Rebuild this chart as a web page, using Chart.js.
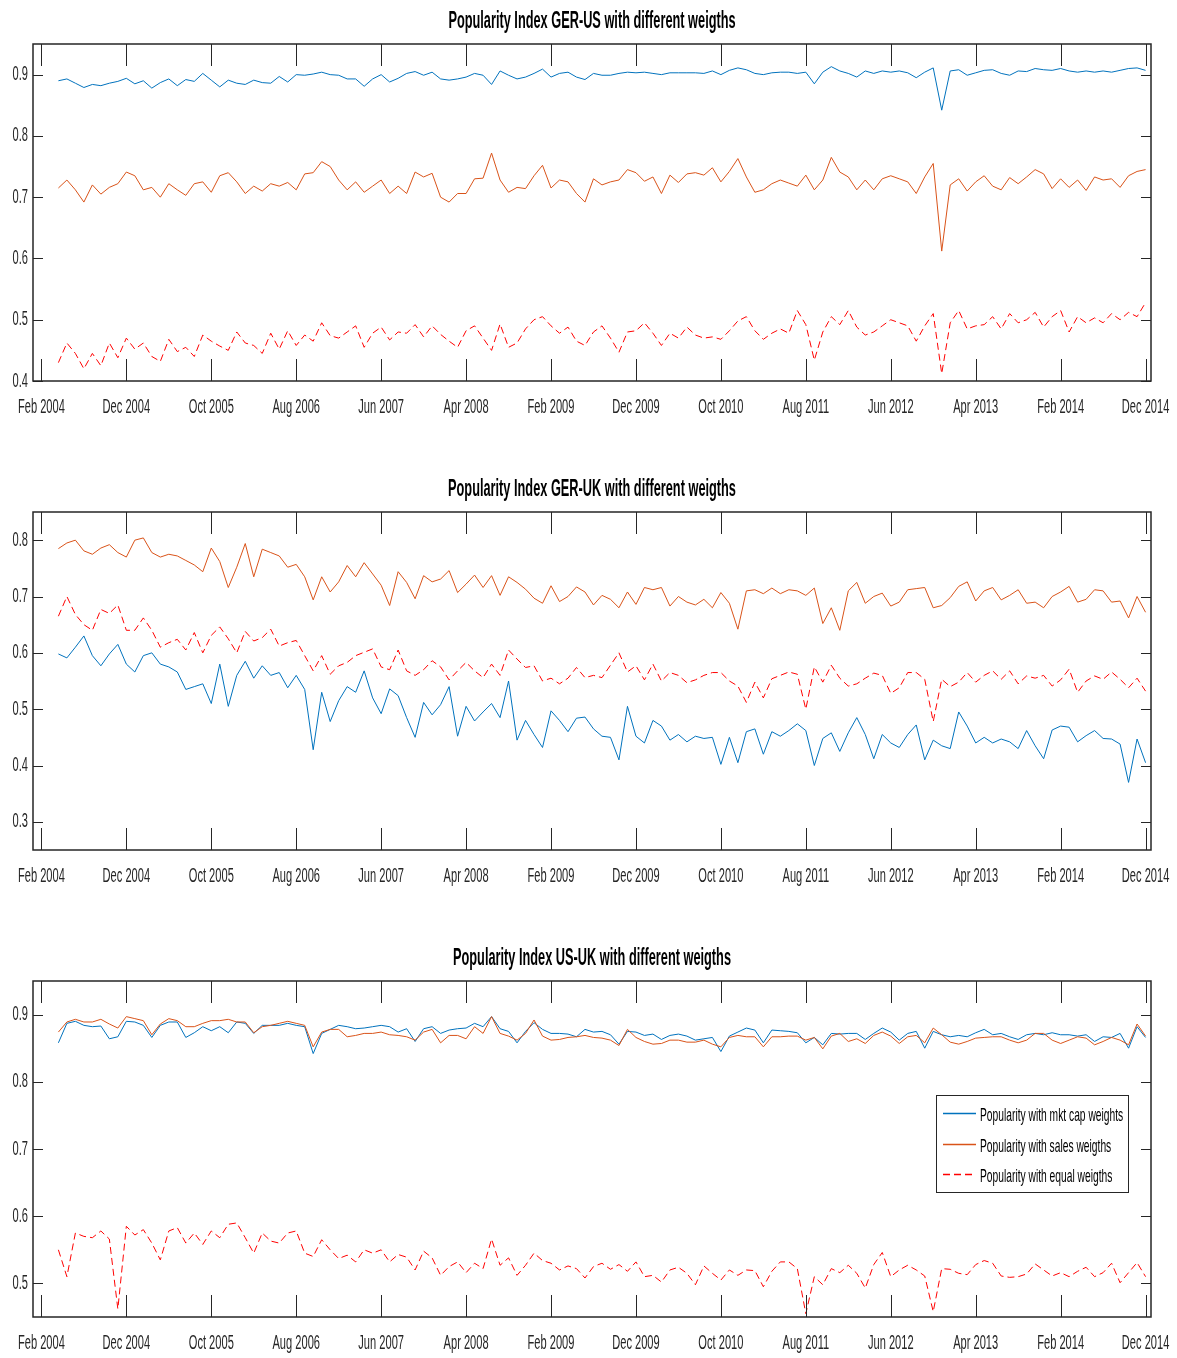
<!DOCTYPE html>
<html>
<head>
<meta charset="utf-8">
<script src="https://cdn.jsdelivr.net/npm/chart.js@4.4.1/dist/chart.umd.min.js"></script>
<style>
body { margin: 0; background: #fff; }
canvas { display: block; }
</style>
</head>
<body>
<canvas id="gerUs" width="1177" height="421"></canvas>
<canvas id="gerUk" width="1177" height="469"></canvas>
<canvas id="usUk" width="1177" height="467"></canvas>
<script>
// months counted from Feb 2004 (0 = Feb 2004), one value per month from Apr 2004
const months = Array.from({ length: 129 }, (_, i) => i + 2);

const xTickPos = [0, 10, 20, 30, 40, 50, 60, 70, 80, 90, 100, 110, 120, 130];
const xTickLabels = ['Feb 2004', 'Dec 2004', 'Oct 2005', 'Aug 2006', 'Jun 2007', 'Apr 2008', 'Feb 2009',
    'Dec 2009', 'Oct 2010', 'Aug 2011', 'Jun 2012', 'Apr 2013', 'Feb 2014', 'Dec 2014'];

const seriesNames = ['Popularity with mkt cap weights', 'Popularity with sales weigths', 'Popularity with equal weigths'];

// GER-US
const gerUsMkt = [
    0.890, 0.893, 0.886, 0.879, 0.884, 0.882, 0.886, 0.889, 0.894, 0.885,
    0.890, 0.878, 0.887, 0.893, 0.882, 0.892, 0.889, 0.902, 0.891, 0.880,
    0.891, 0.886, 0.884, 0.891, 0.887, 0.886, 0.897, 0.888, 0.900, 0.899,
    0.901, 0.904, 0.900, 0.899, 0.893, 0.893, 0.881, 0.893, 0.900, 0.888,
    0.894, 0.902, 0.905, 0.899, 0.904, 0.893, 0.891, 0.893, 0.896, 0.902,
    0.899, 0.884, 0.906, 0.899, 0.893, 0.896, 0.902, 0.909, 0.896, 0.902,
    0.904, 0.896, 0.892, 0.902, 0.899, 0.899, 0.902, 0.904, 0.903, 0.904,
    0.902, 0.900, 0.903, 0.903, 0.903, 0.903, 0.902, 0.906, 0.900, 0.907,
    0.911, 0.908, 0.902, 0.900, 0.903, 0.904, 0.904, 0.902, 0.904, 0.885,
    0.904, 0.913, 0.906, 0.902, 0.896, 0.906, 0.902, 0.906, 0.904, 0.906,
    0.903, 0.895, 0.904, 0.911, 0.842, 0.906, 0.908, 0.899, 0.903, 0.907,
    0.908, 0.902, 0.899, 0.906, 0.905, 0.910, 0.908, 0.907, 0.910, 0.906,
    0.904, 0.906, 0.904, 0.906, 0.904, 0.907, 0.910, 0.911, 0.907
];
const gerUsSales = [
    0.715, 0.728, 0.712, 0.692, 0.720, 0.705, 0.716, 0.722, 0.741, 0.735,
    0.712, 0.716, 0.700, 0.722, 0.712, 0.703, 0.722, 0.725, 0.708, 0.735,
    0.740, 0.725, 0.706, 0.718, 0.710, 0.722, 0.718, 0.724, 0.712, 0.738,
    0.740, 0.758, 0.750, 0.728, 0.712, 0.725, 0.708, 0.718, 0.728, 0.706,
    0.718, 0.706, 0.741, 0.733, 0.739, 0.700, 0.692, 0.706, 0.706, 0.730,
    0.731, 0.772, 0.728, 0.708, 0.716, 0.714, 0.735, 0.752, 0.715, 0.728,
    0.725, 0.706, 0.692, 0.730, 0.720, 0.725, 0.728, 0.745, 0.740, 0.726,
    0.733, 0.706, 0.736, 0.724, 0.738, 0.740, 0.736, 0.748, 0.725, 0.742,
    0.763, 0.733, 0.708, 0.712, 0.722, 0.728, 0.723, 0.718, 0.736, 0.712,
    0.728, 0.765, 0.741, 0.733, 0.712, 0.728, 0.712, 0.730, 0.735, 0.730,
    0.725, 0.706, 0.733, 0.755, 0.612, 0.720, 0.730, 0.710, 0.725, 0.735,
    0.718, 0.712, 0.732, 0.722, 0.733, 0.745, 0.738, 0.714, 0.730, 0.716,
    0.728, 0.711, 0.733, 0.728, 0.730, 0.716, 0.735, 0.742, 0.745
];
const gerUsEqual = [
    0.430, 0.462, 0.445, 0.420, 0.445, 0.425, 0.462, 0.438, 0.470, 0.452,
    0.462, 0.440, 0.432, 0.468, 0.448, 0.455, 0.440, 0.475, 0.465, 0.457,
    0.450, 0.480, 0.462, 0.458, 0.445, 0.478, 0.452, 0.482, 0.458, 0.475,
    0.465, 0.495, 0.474, 0.470, 0.480, 0.490, 0.455, 0.478, 0.488, 0.467,
    0.480, 0.478, 0.492, 0.472, 0.490, 0.476, 0.465, 0.455, 0.482, 0.490,
    0.470, 0.450, 0.493, 0.455, 0.462, 0.485, 0.500, 0.505, 0.490, 0.478,
    0.488, 0.465, 0.458, 0.480, 0.490, 0.470, 0.447, 0.480, 0.482, 0.495,
    0.478, 0.458, 0.478, 0.470, 0.488, 0.475, 0.470, 0.472, 0.468, 0.482,
    0.498, 0.505, 0.482, 0.468, 0.478, 0.485, 0.478, 0.515, 0.492, 0.434,
    0.480, 0.505, 0.492, 0.515, 0.488, 0.475, 0.480, 0.490, 0.500, 0.495,
    0.490, 0.465, 0.490, 0.510, 0.412, 0.495, 0.515, 0.485, 0.490, 0.492,
    0.505, 0.485, 0.510, 0.495, 0.500, 0.512, 0.488, 0.505, 0.515, 0.480,
    0.505, 0.495, 0.503, 0.495, 0.510, 0.500, 0.512, 0.505, 0.528
];

// GER-UK
const gerUkMkt = [
    0.598, 0.591, 0.610, 0.630, 0.595, 0.577, 0.598, 0.615, 0.580, 0.566,
    0.595, 0.600, 0.580, 0.575, 0.566, 0.535, 0.540, 0.545, 0.510, 0.580,
    0.505, 0.560, 0.585, 0.555, 0.577, 0.560, 0.565, 0.538, 0.560, 0.535,
    0.428, 0.530, 0.478, 0.515, 0.540, 0.530, 0.568, 0.520, 0.492, 0.536,
    0.524, 0.485, 0.450, 0.512, 0.490, 0.508, 0.540, 0.452, 0.505, 0.479,
    0.495, 0.510, 0.485, 0.550, 0.445, 0.480, 0.455, 0.432, 0.497, 0.480,
    0.460, 0.484, 0.486, 0.465, 0.452, 0.450, 0.410, 0.505, 0.452, 0.440,
    0.480, 0.470, 0.445, 0.455, 0.442, 0.452, 0.448, 0.450, 0.402, 0.450,
    0.405, 0.460, 0.465, 0.420, 0.460, 0.452, 0.462, 0.474, 0.462, 0.400,
    0.448, 0.458, 0.425, 0.458, 0.485, 0.455, 0.412, 0.455, 0.440, 0.432,
    0.455, 0.472, 0.410, 0.445, 0.435, 0.430, 0.495, 0.470, 0.440, 0.450,
    0.440, 0.447, 0.442, 0.430, 0.462, 0.435, 0.412, 0.463, 0.470, 0.468,
    0.442, 0.453, 0.462, 0.448, 0.447, 0.438, 0.370, 0.447, 0.405
];
const gerUkSales = [
    0.785, 0.795, 0.800, 0.781, 0.775, 0.786, 0.792, 0.778, 0.770, 0.800,
    0.804, 0.778, 0.770, 0.775, 0.772, 0.764, 0.756, 0.744, 0.786, 0.762,
    0.716, 0.752, 0.794, 0.735, 0.784, 0.778, 0.772, 0.752, 0.757, 0.735,
    0.694, 0.735, 0.708, 0.726, 0.755, 0.735, 0.760, 0.740, 0.720, 0.684,
    0.744, 0.725, 0.696, 0.737, 0.726, 0.731, 0.746, 0.707, 0.722, 0.738,
    0.716, 0.737, 0.702, 0.735, 0.725, 0.713, 0.697, 0.688, 0.719, 0.691,
    0.700, 0.717, 0.708, 0.685, 0.702, 0.695, 0.680, 0.708, 0.686, 0.716,
    0.712, 0.716, 0.683, 0.700, 0.690, 0.685, 0.695, 0.680, 0.707, 0.688,
    0.642, 0.710, 0.712, 0.705, 0.715, 0.705, 0.712, 0.710, 0.702, 0.715,
    0.652, 0.680, 0.640, 0.710, 0.725, 0.688, 0.700, 0.706, 0.683, 0.690,
    0.712, 0.714, 0.716, 0.680, 0.684, 0.698, 0.718, 0.726, 0.692, 0.710,
    0.716, 0.694, 0.702, 0.712, 0.688, 0.690, 0.680, 0.700, 0.708, 0.718,
    0.690, 0.695, 0.712, 0.710, 0.690, 0.692, 0.662, 0.700, 0.672
];
const gerUkEqual = [
    0.665, 0.700, 0.668, 0.650, 0.640, 0.677, 0.670, 0.685, 0.640, 0.640,
    0.662, 0.640, 0.610, 0.618, 0.624, 0.605, 0.636, 0.600, 0.631, 0.646,
    0.625, 0.600, 0.638, 0.621, 0.627, 0.642, 0.612, 0.618, 0.622, 0.595,
    0.568, 0.595, 0.562, 0.577, 0.583, 0.595, 0.601, 0.607, 0.575, 0.570,
    0.605, 0.568, 0.560, 0.570, 0.586, 0.575, 0.552, 0.568, 0.583, 0.568,
    0.556, 0.580, 0.560, 0.605, 0.589, 0.574, 0.577, 0.550, 0.555, 0.545,
    0.555, 0.574, 0.556, 0.560, 0.556, 0.578, 0.600, 0.566, 0.577, 0.552,
    0.580, 0.550, 0.565, 0.560, 0.547, 0.552, 0.560, 0.565, 0.565, 0.550,
    0.541, 0.512, 0.548, 0.520, 0.554, 0.560, 0.566, 0.562, 0.500, 0.575,
    0.548, 0.578, 0.555, 0.541, 0.545, 0.555, 0.564, 0.560, 0.528, 0.538,
    0.565, 0.565, 0.553, 0.478, 0.553, 0.540, 0.548, 0.565, 0.548, 0.560,
    0.568, 0.553, 0.568, 0.545, 0.559, 0.555, 0.560, 0.541, 0.552, 0.571,
    0.530, 0.550, 0.559, 0.553, 0.566, 0.553, 0.538, 0.555, 0.532
];

// US-UK
const usUkMkt = [
    0.858, 0.887, 0.890, 0.884, 0.882, 0.883, 0.864, 0.867, 0.890, 0.889,
    0.884, 0.866, 0.884, 0.889, 0.889, 0.866, 0.873, 0.882, 0.876, 0.882,
    0.873, 0.889, 0.887, 0.872, 0.884, 0.884, 0.884, 0.887, 0.884, 0.882,
    0.842, 0.872, 0.878, 0.884, 0.882, 0.879, 0.880, 0.882, 0.884, 0.882,
    0.874, 0.879, 0.860, 0.879, 0.882, 0.872, 0.877, 0.879, 0.880, 0.887,
    0.882, 0.897, 0.879, 0.875, 0.858, 0.875, 0.888, 0.878, 0.872, 0.872,
    0.871, 0.867, 0.878, 0.874, 0.875, 0.870, 0.856, 0.875, 0.874, 0.869,
    0.871, 0.863, 0.869, 0.871, 0.868, 0.862, 0.864, 0.866, 0.845, 0.868,
    0.874, 0.880, 0.877, 0.858, 0.877, 0.876, 0.875, 0.873, 0.858, 0.866,
    0.855, 0.872, 0.871, 0.872, 0.872, 0.863, 0.872, 0.880, 0.874, 0.862,
    0.872, 0.875, 0.850, 0.875, 0.870, 0.867, 0.869, 0.867, 0.873, 0.878,
    0.870, 0.872, 0.867, 0.863, 0.870, 0.872, 0.870, 0.873, 0.870, 0.870,
    0.868, 0.870, 0.860, 0.867, 0.866, 0.872, 0.850, 0.882, 0.866
];
const usUkSales = [
    0.874, 0.889, 0.893, 0.889, 0.889, 0.893, 0.886, 0.880, 0.897, 0.894,
    0.891, 0.870, 0.886, 0.894, 0.891, 0.882, 0.882, 0.887, 0.891, 0.891,
    0.893, 0.889, 0.889, 0.873, 0.882, 0.884, 0.887, 0.890, 0.887, 0.884,
    0.852, 0.874, 0.878, 0.878, 0.867, 0.869, 0.872, 0.872, 0.874, 0.870,
    0.869, 0.867, 0.862, 0.874, 0.878, 0.858, 0.869, 0.869, 0.864, 0.882,
    0.872, 0.897, 0.872, 0.868, 0.862, 0.872, 0.892, 0.868, 0.862, 0.863,
    0.866, 0.867, 0.869, 0.866, 0.865, 0.862, 0.854, 0.878, 0.866, 0.860,
    0.856, 0.857, 0.862, 0.862, 0.859, 0.859, 0.862, 0.856, 0.852, 0.866,
    0.869, 0.867, 0.867, 0.852, 0.867, 0.867, 0.868, 0.868, 0.862, 0.866,
    0.849, 0.868, 0.872, 0.860, 0.864, 0.857, 0.869, 0.874, 0.868, 0.857,
    0.867, 0.869, 0.858, 0.880, 0.870, 0.859, 0.856, 0.860, 0.865, 0.866,
    0.867, 0.867, 0.862, 0.858, 0.862, 0.872, 0.872, 0.862, 0.857, 0.862,
    0.867, 0.865, 0.855, 0.860, 0.866, 0.862, 0.855, 0.886, 0.868
];
const usUkEqual = [
    0.550, 0.510, 0.575, 0.570, 0.568, 0.578, 0.566, 0.462, 0.585, 0.572,
    0.580, 0.560, 0.535, 0.578, 0.583, 0.560, 0.575, 0.558, 0.578, 0.568,
    0.588, 0.590, 0.568, 0.545, 0.575, 0.563, 0.560, 0.575, 0.578, 0.545,
    0.540, 0.565, 0.550, 0.537, 0.542, 0.532, 0.550, 0.545, 0.550, 0.532,
    0.543, 0.539, 0.520, 0.548, 0.538, 0.512, 0.525, 0.532, 0.516, 0.530,
    0.522, 0.566, 0.527, 0.538, 0.512, 0.527, 0.545, 0.534, 0.530, 0.520,
    0.526, 0.522, 0.508, 0.525, 0.530, 0.521, 0.528, 0.518, 0.532, 0.510,
    0.512, 0.502, 0.520, 0.524, 0.515, 0.498, 0.526, 0.515, 0.505, 0.520,
    0.512, 0.520, 0.519, 0.495, 0.518, 0.532, 0.532, 0.522, 0.455, 0.510,
    0.498, 0.522, 0.516, 0.527, 0.515, 0.493, 0.528, 0.546, 0.510, 0.520,
    0.527, 0.520, 0.511, 0.458, 0.522, 0.521, 0.515, 0.513, 0.528, 0.534,
    0.530, 0.511, 0.509, 0.510, 0.514, 0.529, 0.520, 0.511, 0.516, 0.510,
    0.518, 0.524, 0.510, 0.516, 0.530, 0.501, 0.516, 0.531, 0.510
];

const yTicksGerUs = [0.4, 0.5, 0.6, 0.7, 0.8, 0.9];
const yTicksGerUk = [0.3, 0.4, 0.5, 0.6, 0.7, 0.8];
const yTicksUsUk = [0.5, 0.6, 0.7, 0.8, 0.9];

const BLUE = '#0072BD';
const ORANGE = '#D95319';
const RED = '#FF0000';
const AXIS = '#262626';
const FONT = "'Liberation Sans', Arial, sans-serif";
const SQUEEZE = 0.555;

function toPoints(values) {
    return values.map((v, i) => ({ x: months[i], y: v }));
}

function squeezedText(ctx, text, x, y, align, font) {
    ctx.save();
    ctx.translate(x, y);
    ctx.scale(SQUEEZE, 1);
    ctx.font = font;
    ctx.textAlign = align;
    ctx.textBaseline = 'middle';
    ctx.fillText(text, 0, 0);
    ctx.restore();
}

const framePlugin = {
    id: 'frame',
    afterDraw(chart, args, opts) {
        const ctx = chart.ctx;
        const a = chart.chartArea;
        const xs = chart.scales.x;
        const ys = chart.scales.y;
        ctx.save();
        ctx.strokeStyle = AXIS;
        ctx.fillStyle = AXIS;
        ctx.lineWidth = 1;
        ctx.beginPath();
        xs.ticks.forEach(t => {
            const px = Math.round(xs.getPixelForValue(t.value)) + 0.5;
            ctx.moveTo(px, a.bottom); ctx.lineTo(px, a.bottom - 22);
            ctx.moveTo(px, a.top); ctx.lineTo(px, a.top + 22);
        });
        ys.ticks.forEach(t => {
            const py = Math.round(ys.getPixelForValue(t.value)) + 0.5;
            ctx.moveTo(a.left, py); ctx.lineTo(a.left + 10, py);
            ctx.moveTo(a.right, py); ctx.lineTo(a.right - 10, py);
        });
        ctx.stroke();
        ctx.lineWidth = 1.5;
        ctx.strokeRect(a.left, a.top, a.right - a.left, a.bottom - a.top);

        xs.ticks.forEach((t, i) => {
            squeezedText(ctx, xTickLabels[i], xs.getPixelForValue(t.value), a.bottom + 26, 'center', '20px ' + FONT);
        });
        ys.ticks.forEach(t => {
            squeezedText(ctx, t.value.toFixed(1), a.left - 5, ys.getPixelForValue(t.value), 'right', '20px ' + FONT);
        });
        ctx.fillStyle = '#000';
        squeezedText(ctx, opts.title, (a.left + a.right) / 2, a.top - 22, 'center', 'bold 23px ' + FONT);

        if (opts.legend) {
            const box = { left: 936, top: 205, right: 1128, bottom: 302 };
            ctx.fillStyle = '#fff';
            ctx.fillRect(box.left, box.top, box.right - box.left, box.bottom - box.top);
            ctx.lineWidth = 1;
            ctx.strokeStyle = AXIS;
            ctx.strokeRect(box.left + 0.5, box.top + 0.5, box.right - box.left, box.bottom - box.top);
            const rows = [223, 254, 284];
            chart.data.datasets.forEach((ds, i) => {
                ctx.save();
                ctx.strokeStyle = ds.borderColor;
                ctx.lineWidth = 1.5;
                ctx.setLineDash(ds.borderDash || []);
                ctx.beginPath();
                ctx.moveTo(943, rows[i] + 0.5);
                ctx.lineTo(976, rows[i] + 0.5);
                ctx.stroke();
                ctx.restore();
                ctx.fillStyle = '#000';
                squeezedText(ctx, ds.label, 980, rows[i] + 3, 'left', '18.5px ' + FONT);
            });
        }
        ctx.restore();
    }
};

function makePanel(id, title, yMin, yMax, yTicks, mkt, sales, equal, padTop, withLegend) {
    return new Chart(document.getElementById(id), {
        type: 'line',
        data: {
            datasets: [
                { label: seriesNames[0], data: toPoints(mkt), borderColor: BLUE, borderWidth: 1, order: 2 },
                { label: seriesNames[1], data: toPoints(sales), borderColor: ORANGE, borderWidth: 1, order: 1 },
                { label: seriesNames[2], data: toPoints(equal), borderColor: RED, borderWidth: 1, borderDash: [7, 4], order: 0 }
            ]
        },
        options: {
            responsive: false,
            animation: false,
            elements: { point: { radius: 0 }, line: { tension: 0 } },
            layout: { padding: { top: padTop, right: 26, left: 0, bottom: 0 } },
            plugins: {
                legend: { display: false },
                tooltip: { enabled: false },
                frame: { title: title, legend: withLegend }
            },
            scales: {
                x: {
                    type: 'linear', min: -0.99, max: 130.64,
                    grid: { display: false, drawTicks: false },
                    border: { display: false },
                    ticks: { display: false },
                    afterBuildTicks: s => { s.ticks = xTickPos.map(v => ({ value: v })); },
                    afterFit: s => { s.height = 40; }
                },
                y: {
                    min: yMin, max: yMax,
                    grid: { display: false, drawTicks: false },
                    border: { display: false },
                    ticks: { display: false },
                    afterBuildTicks: s => { s.ticks = yTicks.map(v => ({ value: v })); },
                    afterFit: s => { s.width = 33; }
                }
            }
        },
        plugins: [framePlugin]
    });
}

makePanel('gerUs', 'Popularity Index GER-US with different weigths', 0.4, 0.95, yTicksGerUs,
    gerUsMkt, gerUsSales, gerUsEqual, 44, false);
makePanel('gerUk', 'Popularity Index GER-UK with different weigths', 0.25, 0.85, yTicksGerUk,
    gerUkMkt, gerUkSales, gerUkEqual, 91, false);
makePanel('usUk', 'Popularity Index US-UK with different weigths', 0.45, 0.95, yTicksUsUk,
    usUkMkt, usUkSales, usUkEqual, 91, true);
</script>
</body>
</html>
